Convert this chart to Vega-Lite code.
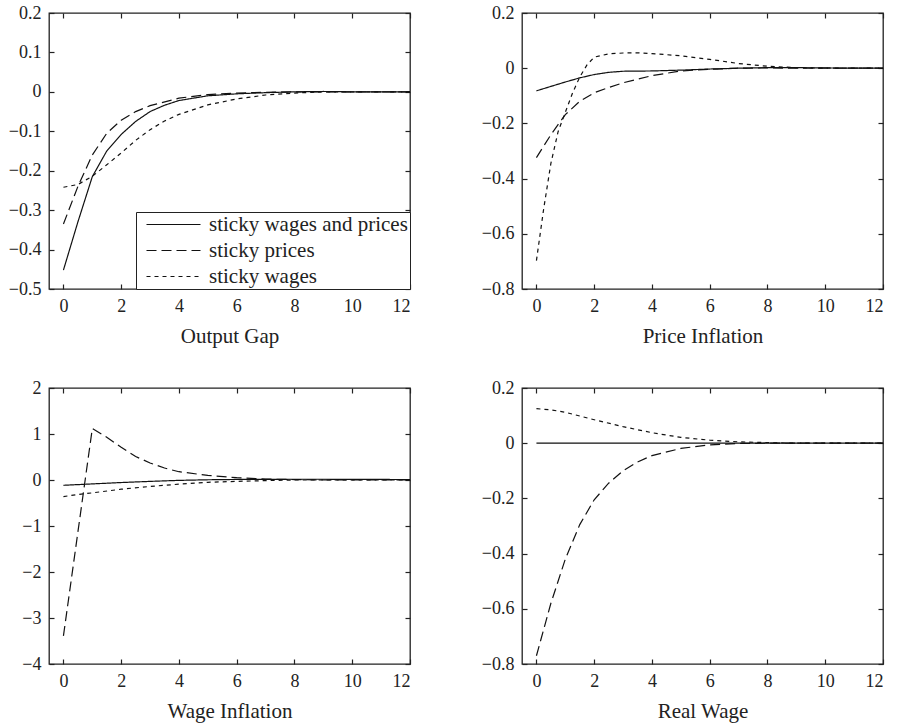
{
  "$schema": "https://vega.github.io/schema/vega-lite/v6.json",
  "padding": {"left": 7, "top": 3, "right": 5, "bottom": 3},
  "background": "white",
  "config": {
    "font": "Liberation Serif",
    "view": {"stroke": "#222", "strokeWidth": 1.3},
    "axis": {
      "labelFont": "Liberation Serif", "labelFontSize": 18, "labelColor": "#222",
      "titleFont": "Liberation Serif", "titleFontSize": 21, "titleFontWeight": "normal", "titleColor": "#222",
      "grid": false, "domain": false, "tickColor": "#222", "tickWidth": 1.2, "tickSize": -5, "labelPadding": 13, "titlePadding": 10
    },
    "legend": {
      "labelFont": "Liberation Serif", "labelFontSize": 21, "labelColor": "#222", "labelLimit": 0
    }
  },
  "datasets": {
    "d": [
      {"panel": "Output Gap", "series": "sticky wages and prices", "x": 0, "y": -0.452},
      {"panel": "Output Gap", "series": "sticky wages and prices", "x": 0.5, "y": -0.33},
      {"panel": "Output Gap", "series": "sticky wages and prices", "x": 1, "y": -0.215},
      {"panel": "Output Gap", "series": "sticky wages and prices", "x": 1.5, "y": -0.15},
      {"panel": "Output Gap", "series": "sticky wages and prices", "x": 2, "y": -0.108},
      {"panel": "Output Gap", "series": "sticky wages and prices", "x": 2.5, "y": -0.075},
      {"panel": "Output Gap", "series": "sticky wages and prices", "x": 3, "y": -0.05},
      {"panel": "Output Gap", "series": "sticky wages and prices", "x": 3.5, "y": -0.034},
      {"panel": "Output Gap", "series": "sticky wages and prices", "x": 4, "y": -0.022},
      {"panel": "Output Gap", "series": "sticky wages and prices", "x": 5, "y": -0.01},
      {"panel": "Output Gap", "series": "sticky wages and prices", "x": 6, "y": -0.005},
      {"panel": "Output Gap", "series": "sticky wages and prices", "x": 7, "y": -0.002},
      {"panel": "Output Gap", "series": "sticky wages and prices", "x": 8, "y": 0},
      {"panel": "Output Gap", "series": "sticky wages and prices", "x": 9, "y": 0.001},
      {"panel": "Output Gap", "series": "sticky wages and prices", "x": 10, "y": 0},
      {"panel": "Output Gap", "series": "sticky wages and prices", "x": 11, "y": 0},
      {"panel": "Output Gap", "series": "sticky wages and prices", "x": 12, "y": 0},
      {"panel": "Output Gap", "series": "sticky prices", "x": 0, "y": -0.335},
      {"panel": "Output Gap", "series": "sticky prices", "x": 0.5, "y": -0.24},
      {"panel": "Output Gap", "series": "sticky prices", "x": 1, "y": -0.16},
      {"panel": "Output Gap", "series": "sticky prices", "x": 1.5, "y": -0.105},
      {"panel": "Output Gap", "series": "sticky prices", "x": 2, "y": -0.072},
      {"panel": "Output Gap", "series": "sticky prices", "x": 2.5, "y": -0.05},
      {"panel": "Output Gap", "series": "sticky prices", "x": 3, "y": -0.035},
      {"panel": "Output Gap", "series": "sticky prices", "x": 4, "y": -0.016},
      {"panel": "Output Gap", "series": "sticky prices", "x": 5, "y": -0.007},
      {"panel": "Output Gap", "series": "sticky prices", "x": 6, "y": -0.003},
      {"panel": "Output Gap", "series": "sticky prices", "x": 7, "y": -0.001},
      {"panel": "Output Gap", "series": "sticky prices", "x": 8, "y": 0},
      {"panel": "Output Gap", "series": "sticky prices", "x": 10, "y": 0},
      {"panel": "Output Gap", "series": "sticky prices", "x": 12, "y": 0},
      {"panel": "Output Gap", "series": "sticky wages", "x": 0, "y": -0.242},
      {"panel": "Output Gap", "series": "sticky wages", "x": 0.5, "y": -0.235},
      {"panel": "Output Gap", "series": "sticky wages", "x": 1, "y": -0.214},
      {"panel": "Output Gap", "series": "sticky wages", "x": 1.5, "y": -0.185},
      {"panel": "Output Gap", "series": "sticky wages", "x": 2, "y": -0.155},
      {"panel": "Output Gap", "series": "sticky wages", "x": 2.5, "y": -0.123},
      {"panel": "Output Gap", "series": "sticky wages", "x": 3, "y": -0.096},
      {"panel": "Output Gap", "series": "sticky wages", "x": 3.5, "y": -0.074},
      {"panel": "Output Gap", "series": "sticky wages", "x": 4, "y": -0.057},
      {"panel": "Output Gap", "series": "sticky wages", "x": 5, "y": -0.033},
      {"panel": "Output Gap", "series": "sticky wages", "x": 6, "y": -0.018},
      {"panel": "Output Gap", "series": "sticky wages", "x": 7, "y": -0.008},
      {"panel": "Output Gap", "series": "sticky wages", "x": 8, "y": -0.003},
      {"panel": "Output Gap", "series": "sticky wages", "x": 9, "y": 0},
      {"panel": "Output Gap", "series": "sticky wages", "x": 10, "y": 0},
      {"panel": "Output Gap", "series": "sticky wages", "x": 12, "y": 0},

      {"panel": "Price Inflation", "series": "sticky wages and prices", "x": 0, "y": -0.082},
      {"panel": "Price Inflation", "series": "sticky wages and prices", "x": 0.5, "y": -0.066},
      {"panel": "Price Inflation", "series": "sticky wages and prices", "x": 1, "y": -0.05},
      {"panel": "Price Inflation", "series": "sticky wages and prices", "x": 1.5, "y": -0.035},
      {"panel": "Price Inflation", "series": "sticky wages and prices", "x": 2, "y": -0.023},
      {"panel": "Price Inflation", "series": "sticky wages and prices", "x": 2.5, "y": -0.015},
      {"panel": "Price Inflation", "series": "sticky wages and prices", "x": 3, "y": -0.011},
      {"panel": "Price Inflation", "series": "sticky wages and prices", "x": 4, "y": -0.01},
      {"panel": "Price Inflation", "series": "sticky wages and prices", "x": 5, "y": -0.007},
      {"panel": "Price Inflation", "series": "sticky wages and prices", "x": 6, "y": -0.003},
      {"panel": "Price Inflation", "series": "sticky wages and prices", "x": 7, "y": 0},
      {"panel": "Price Inflation", "series": "sticky wages and prices", "x": 8, "y": 0.002},
      {"panel": "Price Inflation", "series": "sticky wages and prices", "x": 9, "y": 0.002},
      {"panel": "Price Inflation", "series": "sticky wages and prices", "x": 10, "y": 0.001},
      {"panel": "Price Inflation", "series": "sticky wages and prices", "x": 11, "y": 0},
      {"panel": "Price Inflation", "series": "sticky wages and prices", "x": 12, "y": 0},
      {"panel": "Price Inflation", "series": "sticky prices", "x": 0, "y": -0.324},
      {"panel": "Price Inflation", "series": "sticky prices", "x": 0.5, "y": -0.241},
      {"panel": "Price Inflation", "series": "sticky prices", "x": 1, "y": -0.168},
      {"panel": "Price Inflation", "series": "sticky prices", "x": 1.5, "y": -0.12},
      {"panel": "Price Inflation", "series": "sticky prices", "x": 2, "y": -0.089},
      {"panel": "Price Inflation", "series": "sticky prices", "x": 2.5, "y": -0.07},
      {"panel": "Price Inflation", "series": "sticky prices", "x": 3, "y": -0.053},
      {"panel": "Price Inflation", "series": "sticky prices", "x": 4, "y": -0.027},
      {"panel": "Price Inflation", "series": "sticky prices", "x": 5, "y": -0.01},
      {"panel": "Price Inflation", "series": "sticky prices", "x": 6, "y": -0.004},
      {"panel": "Price Inflation", "series": "sticky prices", "x": 7, "y": 0},
      {"panel": "Price Inflation", "series": "sticky prices", "x": 8, "y": 0.001},
      {"panel": "Price Inflation", "series": "sticky prices", "x": 9, "y": 0},
      {"panel": "Price Inflation", "series": "sticky prices", "x": 12, "y": 0},
      {"panel": "Price Inflation", "series": "sticky wages", "x": 0, "y": -0.697},
      {"panel": "Price Inflation", "series": "sticky wages", "x": 0.25, "y": -0.51},
      {"panel": "Price Inflation", "series": "sticky wages", "x": 0.5, "y": -0.345},
      {"panel": "Price Inflation", "series": "sticky wages", "x": 0.75, "y": -0.23},
      {"panel": "Price Inflation", "series": "sticky wages", "x": 1, "y": -0.16},
      {"panel": "Price Inflation", "series": "sticky wages", "x": 1.25, "y": -0.09},
      {"panel": "Price Inflation", "series": "sticky wages", "x": 1.5, "y": -0.032},
      {"panel": "Price Inflation", "series": "sticky wages", "x": 1.75, "y": 0.012},
      {"panel": "Price Inflation", "series": "sticky wages", "x": 2, "y": 0.04},
      {"panel": "Price Inflation", "series": "sticky wages", "x": 2.5, "y": 0.052},
      {"panel": "Price Inflation", "series": "sticky wages", "x": 3, "y": 0.055},
      {"panel": "Price Inflation", "series": "sticky wages", "x": 3.5, "y": 0.056},
      {"panel": "Price Inflation", "series": "sticky wages", "x": 4, "y": 0.053},
      {"panel": "Price Inflation", "series": "sticky wages", "x": 5, "y": 0.045},
      {"panel": "Price Inflation", "series": "sticky wages", "x": 6, "y": 0.032},
      {"panel": "Price Inflation", "series": "sticky wages", "x": 7, "y": 0.017},
      {"panel": "Price Inflation", "series": "sticky wages", "x": 8, "y": 0.007},
      {"panel": "Price Inflation", "series": "sticky wages", "x": 9, "y": 0.002},
      {"panel": "Price Inflation", "series": "sticky wages", "x": 10, "y": 0},
      {"panel": "Price Inflation", "series": "sticky wages", "x": 12, "y": 0},

      {"panel": "Wage Inflation", "series": "sticky wages and prices", "x": 0, "y": -0.115},
      {"panel": "Wage Inflation", "series": "sticky wages and prices", "x": 1, "y": -0.085},
      {"panel": "Wage Inflation", "series": "sticky wages and prices", "x": 2, "y": -0.055},
      {"panel": "Wage Inflation", "series": "sticky wages and prices", "x": 3, "y": -0.03},
      {"panel": "Wage Inflation", "series": "sticky wages and prices", "x": 4, "y": -0.008},
      {"panel": "Wage Inflation", "series": "sticky wages and prices", "x": 5, "y": 0.005},
      {"panel": "Wage Inflation", "series": "sticky wages and prices", "x": 6, "y": 0.012},
      {"panel": "Wage Inflation", "series": "sticky wages and prices", "x": 7, "y": 0.015},
      {"panel": "Wage Inflation", "series": "sticky wages and prices", "x": 8, "y": 0.016},
      {"panel": "Wage Inflation", "series": "sticky wages and prices", "x": 9, "y": 0.016},
      {"panel": "Wage Inflation", "series": "sticky wages and prices", "x": 10, "y": 0.015},
      {"panel": "Wage Inflation", "series": "sticky wages and prices", "x": 11, "y": 0.012},
      {"panel": "Wage Inflation", "series": "sticky wages and prices", "x": 12, "y": 0.01},
      {"panel": "Wage Inflation", "series": "sticky prices", "x": 0, "y": -3.39},
      {"panel": "Wage Inflation", "series": "sticky prices", "x": 1, "y": 1.12},
      {"panel": "Wage Inflation", "series": "sticky prices", "x": 1.5, "y": 0.93},
      {"panel": "Wage Inflation", "series": "sticky prices", "x": 2, "y": 0.71},
      {"panel": "Wage Inflation", "series": "sticky prices", "x": 2.5, "y": 0.51},
      {"panel": "Wage Inflation", "series": "sticky prices", "x": 3, "y": 0.37},
      {"panel": "Wage Inflation", "series": "sticky prices", "x": 3.5, "y": 0.26},
      {"panel": "Wage Inflation", "series": "sticky prices", "x": 4, "y": 0.18},
      {"panel": "Wage Inflation", "series": "sticky prices", "x": 5, "y": 0.1},
      {"panel": "Wage Inflation", "series": "sticky prices", "x": 6, "y": 0.05},
      {"panel": "Wage Inflation", "series": "sticky prices", "x": 7, "y": 0.02},
      {"panel": "Wage Inflation", "series": "sticky prices", "x": 8, "y": 0.01},
      {"panel": "Wage Inflation", "series": "sticky prices", "x": 9, "y": 0},
      {"panel": "Wage Inflation", "series": "sticky prices", "x": 12, "y": 0},
      {"panel": "Wage Inflation", "series": "sticky wages", "x": 0, "y": -0.36},
      {"panel": "Wage Inflation", "series": "sticky wages", "x": 0.5, "y": -0.315},
      {"panel": "Wage Inflation", "series": "sticky wages", "x": 1, "y": -0.28},
      {"panel": "Wage Inflation", "series": "sticky wages", "x": 2, "y": -0.2},
      {"panel": "Wage Inflation", "series": "sticky wages", "x": 3, "y": -0.14},
      {"panel": "Wage Inflation", "series": "sticky wages", "x": 4, "y": -0.09},
      {"panel": "Wage Inflation", "series": "sticky wages", "x": 5, "y": -0.05},
      {"panel": "Wage Inflation", "series": "sticky wages", "x": 6, "y": -0.03},
      {"panel": "Wage Inflation", "series": "sticky wages", "x": 7, "y": -0.013},
      {"panel": "Wage Inflation", "series": "sticky wages", "x": 8, "y": 0},
      {"panel": "Wage Inflation", "series": "sticky wages", "x": 10, "y": 0},
      {"panel": "Wage Inflation", "series": "sticky wages", "x": 12, "y": 0},

      {"panel": "Real Wage", "series": "sticky wages and prices", "x": 0, "y": 0},
      {"panel": "Real Wage", "series": "sticky wages and prices", "x": 4, "y": 0},
      {"panel": "Real Wage", "series": "sticky wages and prices", "x": 8, "y": 0},
      {"panel": "Real Wage", "series": "sticky wages and prices", "x": 12, "y": 0},
      {"panel": "Real Wage", "series": "sticky prices", "x": 0, "y": -0.77},
      {"panel": "Real Wage", "series": "sticky prices", "x": 0.5, "y": -0.58},
      {"panel": "Real Wage", "series": "sticky prices", "x": 1, "y": -0.42},
      {"panel": "Real Wage", "series": "sticky prices", "x": 1.5, "y": -0.295},
      {"panel": "Real Wage", "series": "sticky prices", "x": 2, "y": -0.205},
      {"panel": "Real Wage", "series": "sticky prices", "x": 2.5, "y": -0.145},
      {"panel": "Real Wage", "series": "sticky prices", "x": 3, "y": -0.1},
      {"panel": "Real Wage", "series": "sticky prices", "x": 3.5, "y": -0.068},
      {"panel": "Real Wage", "series": "sticky prices", "x": 4, "y": -0.045},
      {"panel": "Real Wage", "series": "sticky prices", "x": 5, "y": -0.019},
      {"panel": "Real Wage", "series": "sticky prices", "x": 6, "y": -0.006},
      {"panel": "Real Wage", "series": "sticky prices", "x": 7, "y": -0.001},
      {"panel": "Real Wage", "series": "sticky prices", "x": 8, "y": 0},
      {"panel": "Real Wage", "series": "sticky prices", "x": 10, "y": 0},
      {"panel": "Real Wage", "series": "sticky prices", "x": 12, "y": 0},
      {"panel": "Real Wage", "series": "sticky wages", "x": 0, "y": 0.125},
      {"panel": "Real Wage", "series": "sticky wages", "x": 0.5, "y": 0.121},
      {"panel": "Real Wage", "series": "sticky wages", "x": 1, "y": 0.112},
      {"panel": "Real Wage", "series": "sticky wages", "x": 2, "y": 0.085},
      {"panel": "Real Wage", "series": "sticky wages", "x": 3, "y": 0.06},
      {"panel": "Real Wage", "series": "sticky wages", "x": 4, "y": 0.038},
      {"panel": "Real Wage", "series": "sticky wages", "x": 5, "y": 0.021},
      {"panel": "Real Wage", "series": "sticky wages", "x": 6, "y": 0.011},
      {"panel": "Real Wage", "series": "sticky wages", "x": 7, "y": 0.005},
      {"panel": "Real Wage", "series": "sticky wages", "x": 8, "y": 0.002},
      {"panel": "Real Wage", "series": "sticky wages", "x": 9, "y": 0},
      {"panel": "Real Wage", "series": "sticky wages", "x": 10, "y": 0},
      {"panel": "Real Wage", "series": "sticky wages", "x": 12, "y": 0}
    ]
  },
  "columns": 2,
  "spacing": {"row": 99, "column": 112},
  "bounds": "flush",
  "resolve": {"scale": {"strokeDash": "independent"}, "legend": {"strokeDash": "independent"}},
  "concat": [
    {
      "width": 361, "height": 276,
      "data": {"name": "d"},
      "transform": [{"filter": "datum.panel === 'Output Gap'"}],
      "layer": [
        {
          "mark": {"type": "line", "strokeWidth": 1.2, "color": "#111"},
          "encoding": {
            "x": {"field": "x", "type": "quantitative", "scale": {"domain": [-0.5, 12], "nice": false, "zero": false},
                  "axis": {"orient": "bottom", "values": [0, 2, 4, 6, 8, 10, 12], "title": "Output Gap"}},
            "y": {"field": "y", "type": "quantitative", "scale": {"domain": [-0.5, 0.2], "nice": false, "zero": false},
                  "axis": {"orient": "left", "values": [-0.5, -0.4, -0.3, -0.2, -0.1, 0, 0.1, 0.2], "format": "~g", "title": null}},
            "strokeDash": {"field": "series", "type": "nominal",
              "scale": {"domain": ["sticky wages and prices", "sticky prices", "sticky wages"], "range": [[1, 0], [10, 5], [4, 4]]},
              "legend": {"title": null, "orient": "bottom-right", "offset": 0, "strokeColor": "#222", "fillColor": "white",
                         "padding": 2, "symbolType": "M-3,0H3", "symbolSize": 324, "symbolStrokeColor": "#111", "symbolStrokeWidth": 1.2,
                         "symbolOffset": 25, "labelOffset": 25, "rowPadding": 4}}
          }
        },
        {
          "mark": {"type": "line", "opacity": 0},
          "encoding": {
            "x": {"field": "x", "type": "quantitative", "axis": {"orient": "top", "values": [0, 2, 4, 6, 8, 10, 12], "labels": false, "title": null}},
            "y": {"field": "y", "type": "quantitative", "axis": {"orient": "right", "values": [-0.5, -0.4, -0.3, -0.2, -0.1, 0, 0.1, 0.2], "labels": false, "title": null}}
          }
        }
      ],
      "resolve": {"axis": {"x": "independent", "y": "independent"}}
    },
    {
      "width": 361, "height": 276,
      "data": {"name": "d"},
      "transform": [{"filter": "datum.panel === 'Price Inflation'"}],
      "layer": [
        {
          "mark": {"type": "line", "strokeWidth": 1.2, "color": "#111"},
          "encoding": {
            "x": {"field": "x", "type": "quantitative", "scale": {"domain": [-0.5, 12], "nice": false, "zero": false},
                  "axis": {"orient": "bottom", "values": [0, 2, 4, 6, 8, 10, 12], "title": "Price Inflation"}},
            "y": {"field": "y", "type": "quantitative", "scale": {"domain": [-0.8, 0.2], "nice": false, "zero": false},
                  "axis": {"orient": "left", "values": [-0.8, -0.6, -0.4, -0.2, 0, 0.2], "format": "~g", "title": null}},
            "strokeDash": {"field": "series", "type": "nominal",
              "scale": {"domain": ["sticky wages and prices", "sticky prices", "sticky wages"], "range": [[1, 0], [10, 5], [4, 4]]},
              "legend": null}
          }
        },
        {
          "mark": {"type": "line", "opacity": 0},
          "encoding": {
            "x": {"field": "x", "type": "quantitative", "axis": {"orient": "top", "values": [0, 2, 4, 6, 8, 10, 12], "labels": false, "title": null}},
            "y": {"field": "y", "type": "quantitative", "axis": {"orient": "right", "values": [-0.8, -0.6, -0.4, -0.2, 0, 0.2], "labels": false, "title": null}}
          }
        }
      ],
      "resolve": {"axis": {"x": "independent", "y": "independent"}}
    },
    {
      "width": 361, "height": 276,
      "data": {"name": "d"},
      "transform": [{"filter": "datum.panel === 'Wage Inflation'"}],
      "layer": [
        {
          "mark": {"type": "line", "strokeWidth": 1.2, "color": "#111"},
          "encoding": {
            "x": {"field": "x", "type": "quantitative", "scale": {"domain": [-0.5, 12], "nice": false, "zero": false},
                  "axis": {"orient": "bottom", "values": [0, 2, 4, 6, 8, 10, 12], "title": "Wage Inflation"}},
            "y": {"field": "y", "type": "quantitative", "scale": {"domain": [-4, 2], "nice": false, "zero": false},
                  "axis": {"orient": "left", "values": [-4, -3, -2, -1, 0, 1, 2], "format": "~g", "title": null}},
            "strokeDash": {"field": "series", "type": "nominal",
              "scale": {"domain": ["sticky wages and prices", "sticky prices", "sticky wages"], "range": [[1, 0], [10, 5], [4, 4]]},
              "legend": null}
          }
        },
        {
          "mark": {"type": "line", "opacity": 0},
          "encoding": {
            "x": {"field": "x", "type": "quantitative", "axis": {"orient": "top", "values": [0, 2, 4, 6, 8, 10, 12], "labels": false, "title": null}},
            "y": {"field": "y", "type": "quantitative", "axis": {"orient": "right", "values": [-4, -3, -2, -1, 0, 1, 2], "labels": false, "title": null}}
          }
        }
      ],
      "resolve": {"axis": {"x": "independent", "y": "independent"}}
    },
    {
      "width": 361, "height": 276,
      "data": {"name": "d"},
      "transform": [{"filter": "datum.panel === 'Real Wage'"}],
      "layer": [
        {
          "mark": {"type": "line", "strokeWidth": 1.2, "color": "#111"},
          "encoding": {
            "x": {"field": "x", "type": "quantitative", "scale": {"domain": [-0.5, 12], "nice": false, "zero": false},
                  "axis": {"orient": "bottom", "values": [0, 2, 4, 6, 8, 10, 12], "title": "Real Wage"}},
            "y": {"field": "y", "type": "quantitative", "scale": {"domain": [-0.8, 0.2], "nice": false, "zero": false},
                  "axis": {"orient": "left", "values": [-0.8, -0.6, -0.4, -0.2, 0, 0.2], "format": "~g", "title": null}},
            "strokeDash": {"field": "series", "type": "nominal",
              "scale": {"domain": ["sticky wages and prices", "sticky prices", "sticky wages"], "range": [[1, 0], [10, 5], [4, 4]]},
              "legend": null}
          }
        },
        {
          "mark": {"type": "line", "opacity": 0},
          "encoding": {
            "x": {"field": "x", "type": "quantitative", "axis": {"orient": "top", "values": [0, 2, 4, 6, 8, 10, 12], "labels": false, "title": null}},
            "y": {"field": "y", "type": "quantitative", "axis": {"orient": "right", "values": [-0.8, -0.6, -0.4, -0.2, 0, 0.2], "labels": false, "title": null}}
          }
        }
      ],
      "resolve": {"axis": {"x": "independent", "y": "independent"}}
    }
  ]
}
